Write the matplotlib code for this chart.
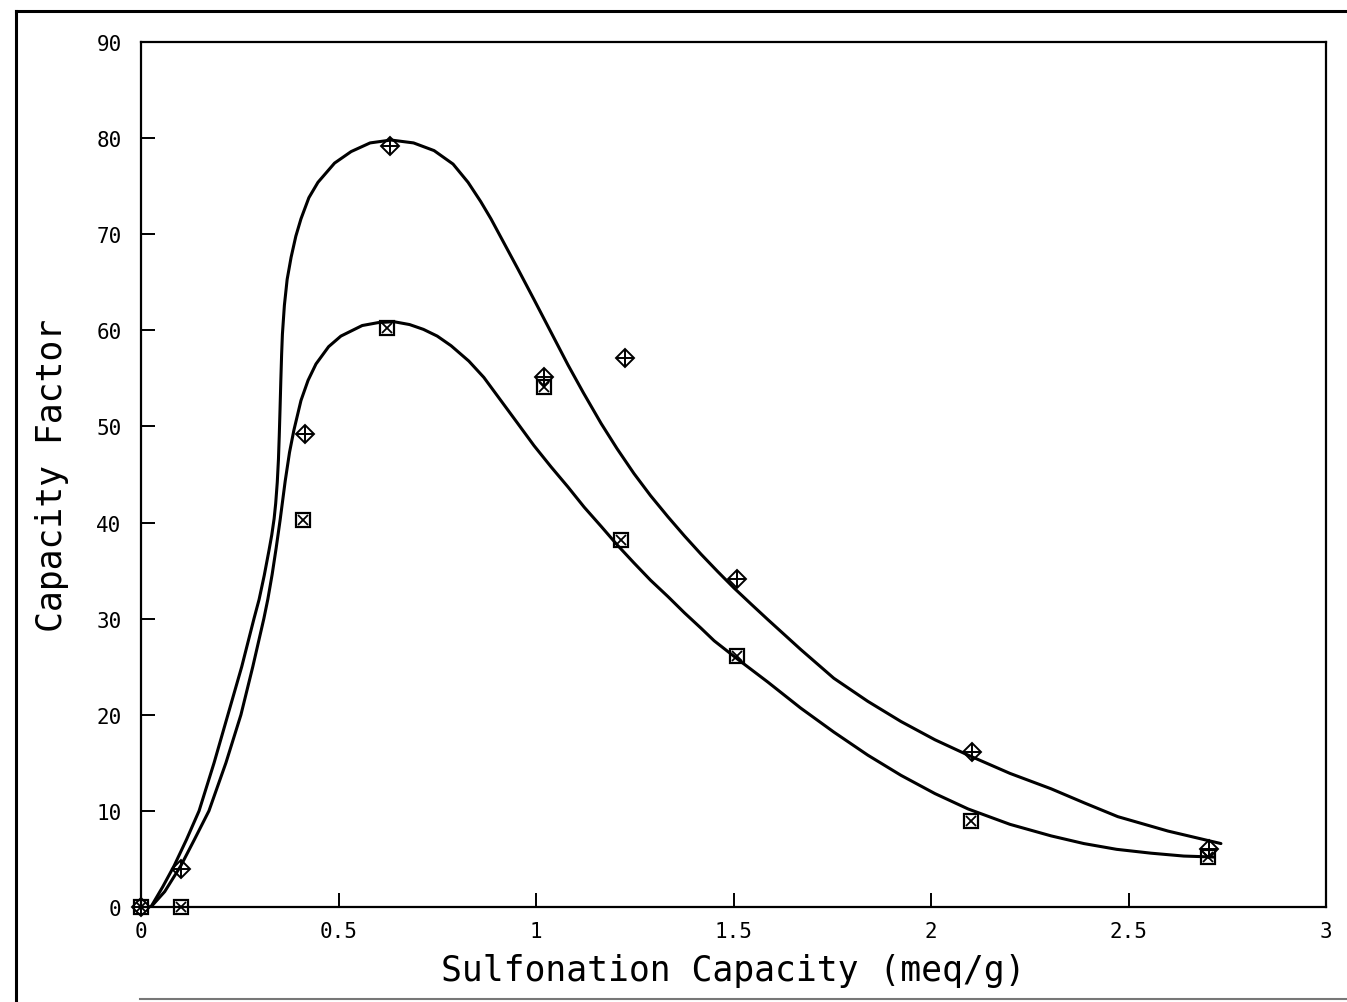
#!/usr/bin/env python3
"""Capacity factor vs sulfonation capacity (scanned plotter figure)."""
import matplotlib
matplotlib.use("Agg")
import matplotlib.pyplot as plt
from matplotlib.lines import Line2D

# measured points: diamond-plus series (upper) and square-x series (lower)
diamond_x = [0.0, 0.10, 0.415, 0.63, 1.02, 1.225, 1.51, 2.105, 2.705]
diamond_y = [0.0, 4.0, 49.2, 79.2, 55.1, 57.1, 34.1, 16.1, 6.0]
square_x = [0.0, 0.10, 0.41, 0.623, 1.02, 1.215, 1.51, 2.10, 2.70]
square_y = [0.0, 0.0, 40.3, 60.2, 54.1, 38.2, 26.1, 9.0, 5.2]

# fitted curves
upper_x = [0.025, 0.055, 0.084, 0.115, 0.147, 0.185, 0.220, 0.255, 0.286, 0.299,
           0.312, 0.324, 0.331, 0.337, 0.341, 0.345, 0.348, 0.350, 0.352, 0.354,
           0.356, 0.358, 0.363, 0.370, 0.380,
           0.392, 0.405, 0.425, 0.448, 0.490, 0.532, 0.580, 0.633, 0.690, 0.742,
           0.790, 0.828, 0.860, 0.886, 0.920, 0.954, 0.995, 1.038, 1.081, 1.120,
           1.165, 1.205, 1.248, 1.290, 1.334, 1.376, 1.418, 1.460, 1.501, 1.545,
           1.587, 1.670, 1.754, 1.840, 1.924, 2.010, 2.094, 2.200, 2.304, 2.390,
           2.473, 2.600, 2.734]
upper_y = [0.0, 2.1, 4.3, 7.0, 10.0, 15.0, 20.0, 25.0, 30.0, 32.0,
           34.5, 37.1, 38.7, 40.4, 42.0, 44.2, 46.6, 49.0, 51.8, 54.8,
           57.5, 59.6, 62.6, 65.3, 67.6,
           69.8, 71.6, 73.8, 75.4, 77.4, 78.6, 79.5, 79.8, 79.5, 78.7,
           77.3, 75.4, 73.4, 71.6, 69.0, 66.4, 63.2, 59.8, 56.4, 53.5,
           50.3, 47.7, 45.1, 42.8, 40.6, 38.6, 36.7, 34.9, 33.2, 31.5,
           29.9, 26.8, 23.8, 21.4, 19.3, 17.4, 15.8, 13.9, 12.3, 10.8,
           9.4, 7.9, 6.6]
lower_x = [0.025, 0.060, 0.101, 0.135, 0.172, 0.215, 0.253, 0.283, 0.311, 0.321,
           0.332, 0.342, 0.352, 0.365, 0.376, 0.387, 0.405, 0.423, 0.443, 0.475,
           0.506, 0.560, 0.600, 0.640, 0.680, 0.715, 0.750, 0.785, 0.830, 0.868,
           0.911, 0.954, 0.995, 1.038, 1.081, 1.122, 1.165, 1.205, 1.248, 1.290,
           1.334, 1.376, 1.418, 1.451, 1.510, 1.587, 1.670, 1.754, 1.840, 1.924,
           2.010, 2.094, 2.200, 2.304, 2.387, 2.470, 2.557, 2.640, 2.716]
lower_y = [0.0, 1.6, 4.3, 7.0, 10.0, 15.0, 20.0, 25.0, 30.0, 32.0,
           34.6, 37.3, 40.2, 44.3, 47.3, 49.6, 52.7, 54.8, 56.5, 58.3,
           59.4, 60.5, 60.8, 60.9, 60.6, 60.1, 59.4, 58.4, 56.8, 55.1,
           52.7, 50.3, 48.0, 45.8, 43.7, 41.6, 39.6, 37.7, 35.8, 34.0,
           32.3, 30.6, 29.0, 27.7, 25.8, 23.4, 20.7, 18.2, 15.8, 13.7,
           11.8, 10.2, 8.6, 7.4, 6.6, 6.0, 5.6, 5.3, 5.2]

x_ticks = [0, 0.5, 1, 1.5, 2, 2.5, 3]
x_tick_labels = ["0", "0.5", "1", "1.5", "2", "2.5", "3"]
y_ticks = [0, 10, 20, 30, 40, 50, 60, 70, 80, 90]

FONT = "DejaVu Sans Mono"

fig = plt.figure(figsize=(13.47, 10.03), dpi=100)
ax = fig.add_axes([141 / 1347, 95 / 1003, 1185 / 1347, 865 / 1003])

ax.plot(upper_x, upper_y, color="black", linewidth=2.2, solid_capstyle="round",
        solid_joinstyle="round")
ax.plot(lower_x, lower_y, color="black", linewidth=2.2, solid_capstyle="round",
        solid_joinstyle="round")

# diamond with a plus inside
ax.plot(diamond_x, diamond_y, linestyle="none", marker="D", markersize=9.5,
        markerfacecolor="none", markeredgecolor="black", markeredgewidth=1.4,
        clip_on=False)
ax.plot(diamond_x, diamond_y, linestyle="none", marker="+", markersize=11,
        markeredgecolor="black", markeredgewidth=1.4, clip_on=False)
# square with an x inside
ax.plot(square_x, square_y, linestyle="none", marker="s", markersize=10,
        markerfacecolor="none", markeredgecolor="black", markeredgewidth=1.6,
        clip_on=False)
ax.plot(square_x, square_y, linestyle="none", marker="x", markersize=7,
        markeredgecolor="black", markeredgewidth=1.3, clip_on=False)

ax.set_xlim(0, 3)
ax.set_ylim(0, 90)
ax.set_xticks(x_ticks)
ax.set_xticklabels(x_tick_labels)
ax.set_yticks(y_ticks)
ax.tick_params(direction="in", length=10, width=1.4, top=False, right=False,
               labelsize=15)
ax.tick_params(axis="x", pad=10)
ax.tick_params(axis="y", pad=14)
for lbl in ax.get_xticklabels() + ax.get_yticklabels():
    lbl.set_fontfamily(FONT)
for sp in ax.spines.values():
    sp.set_linewidth(1.6)

ax.set_xlabel("Sulfonation Capacity (meq/g)", fontsize=25, family=FONT, labelpad=9)
ax.set_ylabel("Capacity Factor", fontsize=25, family=FONT, labelpad=20)

# outer frame of the scanned page
fig.add_artist(Line2D([16 / 1347, 16 / 1347], [0, 1 - 12 / 1003],
                      transform=fig.transFigure, color="black", linewidth=2.2))
fig.add_artist(Line2D([16 / 1347, 1], [1 - 12 / 1003, 1 - 12 / 1003],
                      transform=fig.transFigure, color="black", linewidth=2.2))
fig.add_artist(Line2D([140 / 1347, 1], [3 / 1003, 3 / 1003],
                      transform=fig.transFigure, color="#777777", linewidth=1.5))

fig.savefig("out.png", dpi=100)
